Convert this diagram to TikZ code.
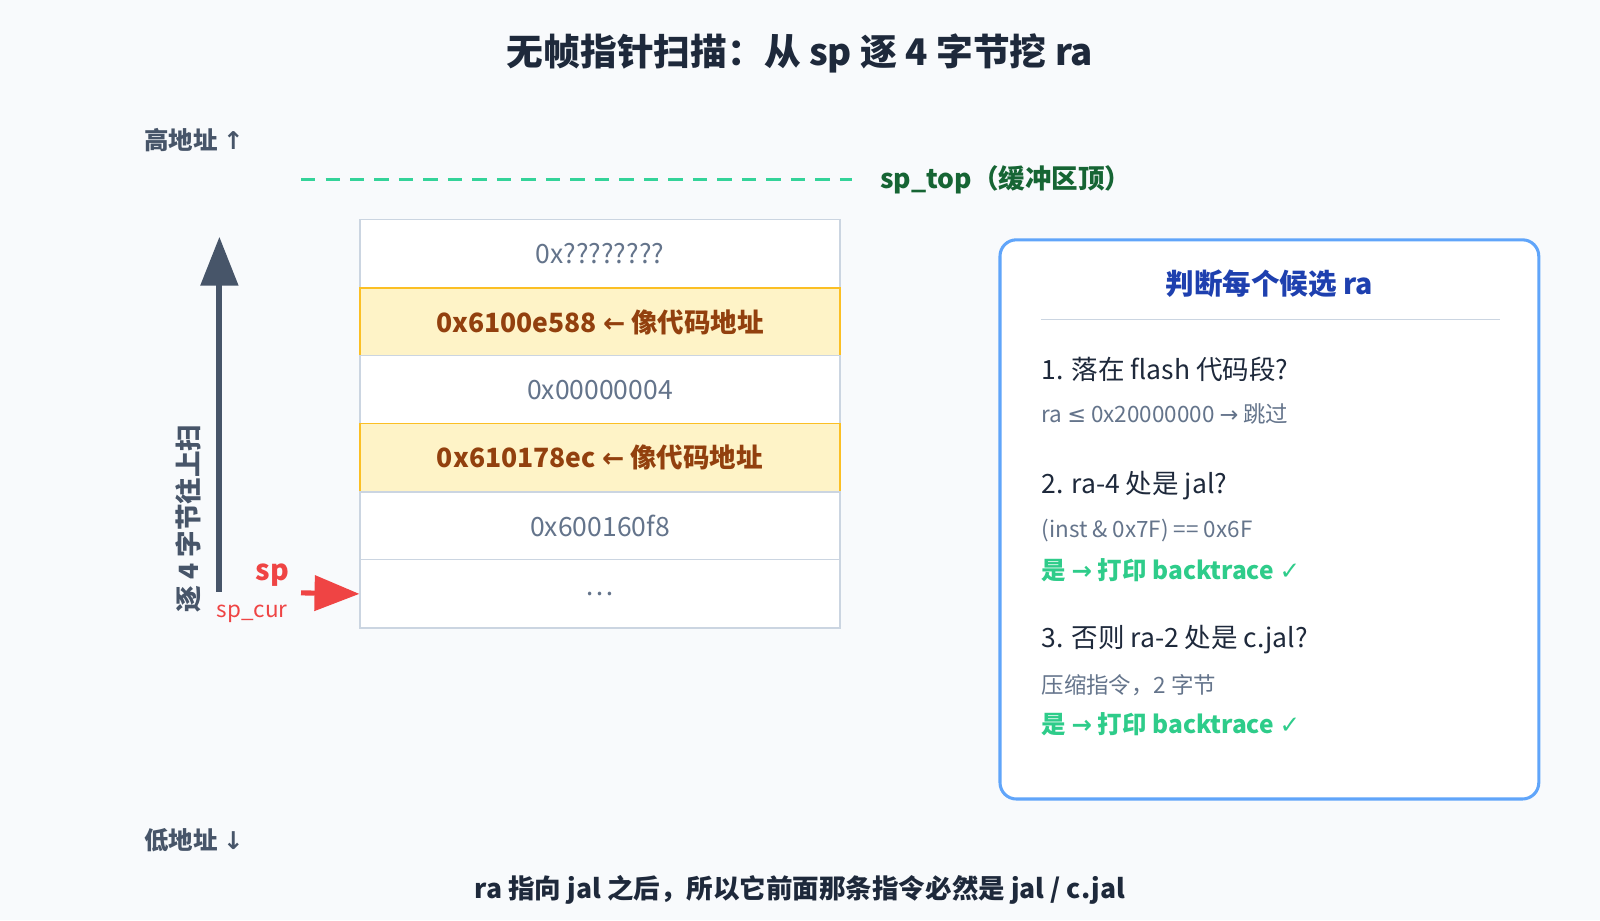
\documentclass[tikz,border=0pt]{standalone}
\usepackage{fontspec}
\setmainfont{Noto Sans CJK SC}
\newfontfamily\symfont{DejaVu Sans}
\usetikzlibrary{arrows.meta,positioning}
\definecolor{bgc}{HTML}{F8FAFC}
\definecolor{ink}{HTML}{1E293B}
\definecolor{slate}{HTML}{475569}
\definecolor{mute}{HTML}{64748B}
\definecolor{cellline}{HTML}{CBD5E1}
\definecolor{hifill}{HTML}{FEF3C7}
\definecolor{hiline}{HTML}{FBBF24}
\definecolor{hitext}{HTML}{92400E}
\definecolor{topgreen}{HTML}{34D399}
\definecolor{topdark}{HTML}{166534}
\definecolor{okgreen}{HTML}{2ECC8A}
\definecolor{spred}{HTML}{EF4444}
\definecolor{boxblue}{HTML}{60A5FA}
\definecolor{headblue}{HTML}{1E40AF}
\tikzset{every picture/.style={line width=0.75pt}}
\tikzset{
  cell/.style={draw=cellline,fill=white,minimum width=235pt,minimum height=33.5pt,inner sep=0pt,text=mute,font=\fontsize{13}{15}\selectfont},
  hicell/.style={cell,draw=hiline,fill=hifill,text=hitext,font=\fontsize{13}{15}\selectfont\bfseries},
  rule/.style={anchor=west,text=ink,font=\fontsize{13}{15}\selectfont,inner sep=0pt},
  note/.style={anchor=west,text=mute,font=\fontsize{11}{13}\selectfont,inner sep=0pt},
  okay/.style={anchor=west,text=okgreen,font=\fontsize{12}{14}\selectfont\bfseries,inner sep=0pt},
  addr/.style={text=slate,font=\fontsize{12}{14}\selectfont\bfseries}
}
\begin{document}
\begin{tikzpicture}[x=0.5pt,y=0.5pt,yscale=-1,xscale=1]
	\fill[bgc] (0,0) rectangle (1568,902);
	\useasboundingbox (0,0) rectangle (1568,902);

	% Title
	\node[text=ink,font=\fontsize{18}{20}\selectfont\bfseries] (title) at (784,52) {无帧指针扫描：从 sp 逐 4 字节挖 ra};
	\node[addr] (high) at (190,137) {高地址 {\symfont↑}};
	\node[addr] (low) at (190,823) {低地址 {\symfont↓}};

	% sp_top line
	\coordinate (topL) at (295,176);
	\coordinate (topR) at (835,176);
	\draw[topgreen,line width=1.5pt,dash pattern=on 7pt off 5pt] (topL) -- (topR);
	\node[anchor=west,text=topdark,font=\fontsize{13}{15}\selectfont\bfseries,inner sep=0pt] (toplab) at (862,176) {sp\_top（缓冲区顶）};

	% Stack cells
	\node[cell] (c1) at (588,248.5) {0x????????};
	\node[hicell] (c2) at (588,315.5) {0x6100e588 {\symfont←} 像代码地址};
	\node[cell] (c3) at (588,382) {0x00000004};
	\node[hicell] (c4) at (588,448.5) {0x610178ec {\symfont←} 像代码地址};
	\node[cell] (c5) at (588,515.5) {0x600160f8};
	\node[cell] (c6) at (588,582) {\dots};

	% Scan arrow
	\coordinate (scanB) at (215,580);
	\coordinate (scanT) at (215,232);
	\draw[slate,line width=3pt,-{Triangle[length=24pt,width=18pt]}] (scanB) -- (scanT);
	\node[rotate=90,text=slate,font=\fontsize{13}{15}\selectfont\bfseries] (scanlab) at (185,508) {逐 4 字节往上扫};

	% sp marker
	\node[text=spred,font=\fontsize{14}{16}\selectfont\bfseries] (sp) at (267,564) {sp};
	\node[text=spred,font=\fontsize{11}{13}\selectfont] (spcur) at (247,602) {sp\_cur};
	\coordinate (spA) at (295,581);
	\draw[spred,line width=2.5pt,-{Triangle[length=22pt,width=17pt]}] (spA) -- (c6.west);

	% Decision box
	\node[draw=boxblue,line width=1.5pt,fill=white,rounded corners=8pt,minimum width=264pt,minimum height=274pt,inner sep=0pt] (judge) at (1244,509) {};
	\node[text=headblue,font=\fontsize{14}{16}\selectfont\bfseries] (jhead) at (1244,278) {判断每个候选 ra};
	\coordinate (sepL) at (1020,313);
	\coordinate (sepR) at (1470,313);
	\draw[cellline] (sepL) -- (sepR);
	\node[rule] (r1) at (1020,362) {1. 落在 flash 代码段?};
	\node[note] (n1) at (1020,406) {ra {\symfont ≤} 0x20000000 {\symfont→} 跳过};
	\node[rule] (r2) at (1020,476) {2. ra-4 处是 jal?};
	\node[note] (n2) at (1020,520) {(inst \& 0x7F) == 0x6F};
	\node[okay] (k2) at (1020,559) {是 {\symfont→} 打印 backtrace {\symfont✓}};
	\node[rule] (r3) at (1020,627) {3. 否则 ra-2 处是 c.jal?};
	\node[note] (n3) at (1020,671) {压缩指令，2 字节};
	\node[okay] (k3) at (1020,710) {是 {\symfont→} 打印 backtrace {\symfont✓}};

	% Footer
	\node[text=ink,font=\fontsize{13}{15}\selectfont\bfseries] (foot) at (784,872) {ra 指向 jal 之后，所以它前面那条指令必然是 jal / c.jal};
\end{tikzpicture}
\end{document}
